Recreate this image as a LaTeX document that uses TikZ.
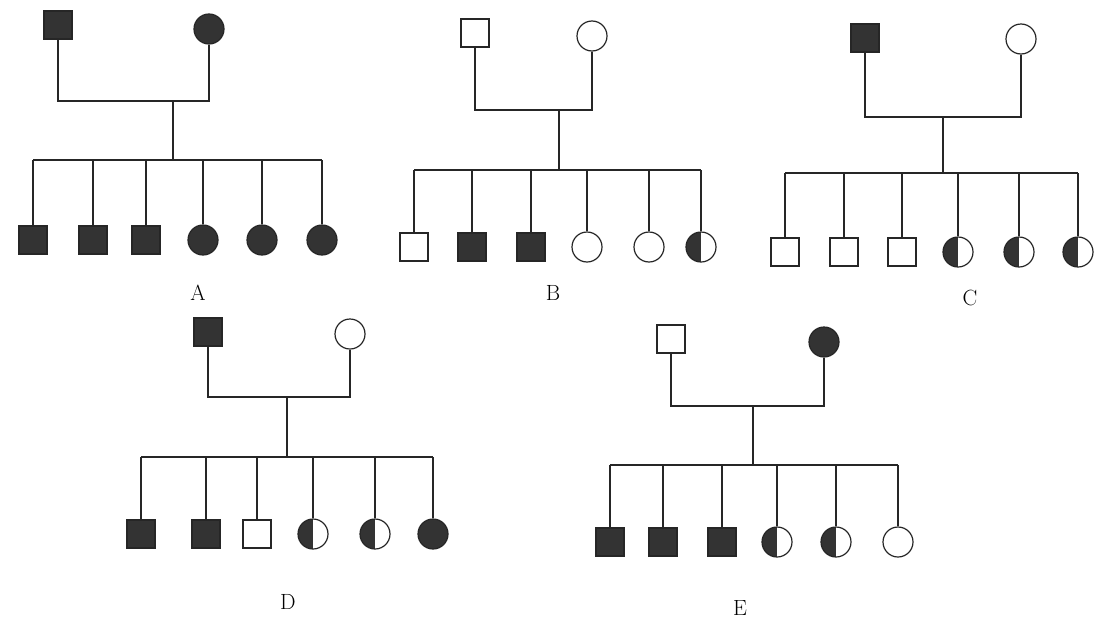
\documentclass[tikz,border=0pt]{standalone}
\begin{document}
\begin{tikzpicture}[
  x=1pt, y=-1pt,
  conn/.style={line width=1.4pt, draw=black!85},
  male/.style={draw=black!85, line width=1.2pt, rectangle, minimum size=28pt, inner sep=0pt, fill=white},
  female/.style={draw=black!85, line width=1.2pt, circle, minimum size=30pt, inner sep=0pt, fill=white},
  aff/.style={fill=black!80},
  half/.style={path picture={\fill[black!80] (path picture bounding box.south west) rectangle (path picture bounding box.north);}},
  lbl/.style={font=\fontsize{22}{24}\selectfont, inner sep=0pt}
]
\useasboundingbox[fill=white] (0,0) rectangle (1103,624);

% ---------- A ----------
\node[male,aff] (AF) at (58,25) {};
\node[female,aff] (AM) at (209,29) {};
\coordinate (Ac) at (173,101);
\coordinate (As) at (173,160);
\node[male,aff] (A1) at (33,240) {};
\node[male,aff] (A2) at (93,240) {};
\node[male,aff] (A3) at (146,240) {};
\node[female,aff] (A4) at (203,240) {};
\node[female,aff] (A5) at (262,240) {};
\node[female,aff] (A6) at (322,240) {};
\draw[conn] (AF.south) |- (Ac) -| (AM.south);
\draw[conn] (Ac) -- (As);
\draw[conn] (A1|-As) -- (A6|-As);
\foreach \i in {1,...,6} \draw[conn] (A\i|-As) -- (A\i);
\node[lbl] (Al) at (198,293) {A};

% ---------- B ----------
\node[male] (BF) at (475,33) {};
\node[female] (BM) at (592,36) {};
\coordinate (Bc) at (559,110);
\coordinate (Bs) at (559,170);
\node[male] (B1) at (414,247) {};
\node[male,aff] (B2) at (472,247) {};
\node[male,aff] (B3) at (531,247) {};
\node[female] (B4) at (587,247) {};
\node[female] (B5) at (649,247) {};
\node[female,half] (B6) at (701,247) {};
\draw[conn] (BF.south) |- (Bc) -| (BM.south);
\draw[conn] (Bc) -- (Bs);
\draw[conn] (B1|-Bs) -- (B6|-Bs);
\foreach \i in {1,...,6} \draw[conn] (B\i|-Bs) -- (B\i);
\node[lbl] (Bl) at (553,293) {B};

% ---------- C ----------
\node[male,aff] (CF) at (865,38) {};
\node[female] (CM) at (1021,39) {};
\coordinate (Cc) at (943,117);
\coordinate (Cs) at (943,173);
\node[male] (C1) at (785,252) {};
\node[male] (C2) at (844,252) {};
\node[male] (C3) at (902,252) {};
\node[female,half] (C4) at (958,252) {};
\node[female,half] (C5) at (1019,252) {};
\node[female,half] (C6) at (1078,252) {};
\draw[conn] (CF.south) |- (Cc) -| (CM.south);
\draw[conn] (Cc) -- (Cs);
\draw[conn] (C1|-Cs) -- (C6|-Cs);
\foreach \i in {1,...,6} \draw[conn] (C\i|-Cs) -- (C\i);
\node[lbl] (Cl) at (970,298) {C};

% ---------- D ----------
\node[male,aff] (DF) at (208,332) {};
\node[female] (DM) at (350,334) {};
\coordinate (Dc) at (287,397);
\coordinate (Ds) at (287,457);
\node[male,aff] (D1) at (141,534) {};
\node[male,aff] (D2) at (206,534) {};
\node[male] (D3) at (257,534) {};
\node[female,half] (D4) at (313,534) {};
\node[female,half] (D5) at (375,534) {};
\node[female,aff] (D6) at (433,534) {};
\draw[conn] (DF.south) |- (Dc) -| (DM.south);
\draw[conn] (Dc) -- (Ds);
\draw[conn] (D1|-Ds) -- (D6|-Ds);
\foreach \i in {1,...,6} \draw[conn] (D\i|-Ds) -- (D\i);
\node[lbl] (Dl) at (288,602) {D};

% ---------- E ----------
\node[male] (EF) at (671,339) {};
\node[female,aff] (EM) at (824,342) {};
\coordinate (Ec) at (753,406);
\coordinate (Es) at (753,465);
\node[male,aff] (E1) at (610,542) {};
\node[male,aff] (E2) at (663,542) {};
\node[male,aff] (E3) at (722,542) {};
\node[female,half] (E4) at (777,542) {};
\node[female,half] (E5) at (836,542) {};
\node[female] (E6) at (898,542) {};
\draw[conn] (EF.south) |- (Ec) -| (EM.south);
\draw[conn] (Ec) -- (Es);
\draw[conn] (E1|-Es) -- (E6|-Es);
\foreach \i in {1,...,6} \draw[conn] (E\i|-Es) -- (E\i);
\node[lbl] (El) at (740,608) {E};
\end{tikzpicture}
\end{document}
